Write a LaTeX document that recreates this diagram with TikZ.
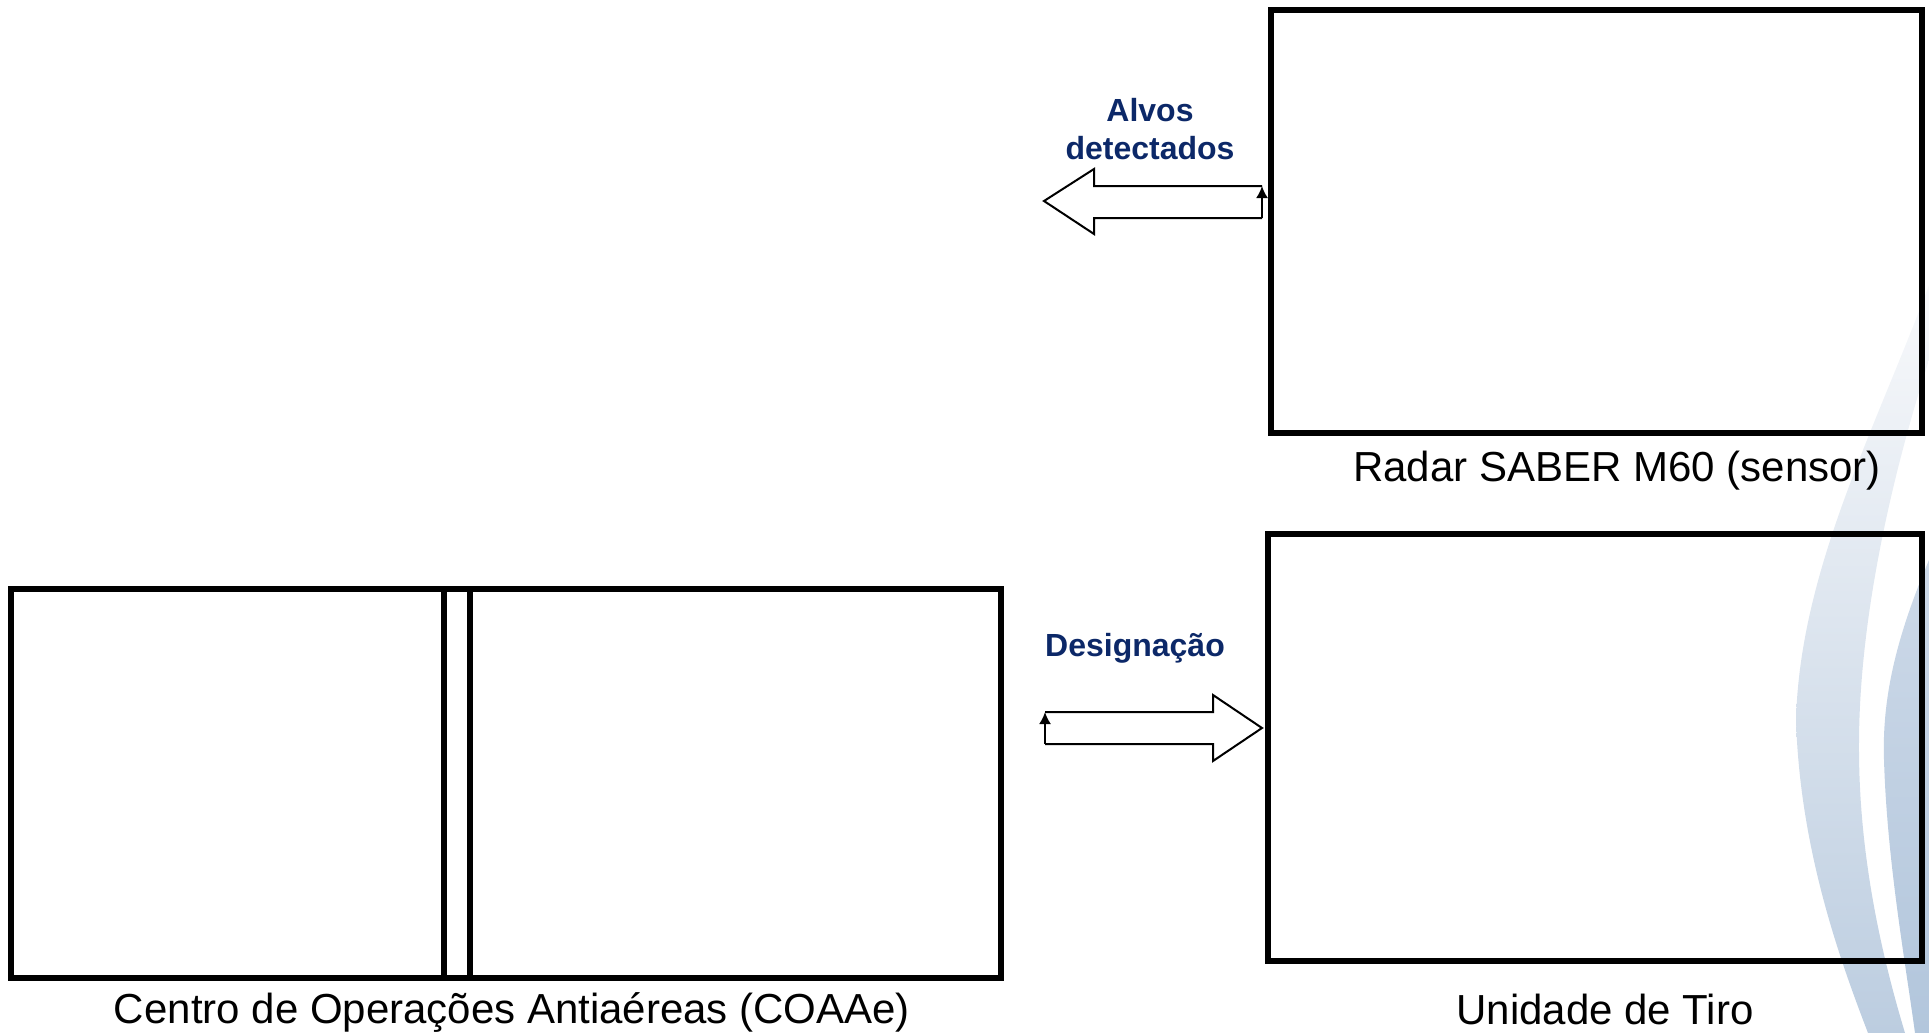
\documentclass[tikz,border=0pt]{standalone}
\usepackage{fontspec}
\setmainfont{Liberation Sans}
\usetikzlibrary{arrows.meta}
\definecolor{navy}{RGB}{12,40,104}
\definecolor{crAtop}{RGB}{248,249,251}
\definecolor{crAmid}{RGB}{232,237,243}
\definecolor{crA}{RGB}{188,205,224}
\definecolor{crBtop}{RGB}{205,217,232}
\definecolor{crB}{RGB}{178,198,220}
\begin{document}
\begin{tikzpicture}[x=0.5pt,y=-0.5pt,
  box/.style={draw=black,line width=2.6pt,inner sep=0pt,outer sep=0pt},
  divider/.style={draw=black,line width=2.6pt},
  blockarrow/.style={draw=black,line width=1pt,fill=white,line join=miter},
  tipline/.style={draw=black,line width=1pt,-{Latex[length=6pt,width=6pt]}},
  lbl/.style={font=\fontsize{21}{25}\selectfont,text=black,inner sep=0pt},
  blbl/.style={font=\fontsize{16}{19}\selectfont\bfseries,text=navy,align=center,inner sep=0pt}]
\useasboundingbox (0,0) rectangle (1929,1033);
% background crescents
\shade[top color=crAtop,middle color=crAmid,bottom color=crA]
  (1929,285) .. controls (1875,430) and (1800,570) .. (1796,720)
  .. controls (1800,850) and (1840,960) .. (1868,1033) -- (1905,1033)
  .. controls (1880,950) and (1858,850) .. (1859,740)
  .. controls (1860,600) and (1900,450) .. (1929,360) -- cycle;
\shade[top color=crBtop,bottom color=crB]
  (1929,560) .. controls (1895,640) and (1882,700) .. (1884,760)
  .. controls (1887,860) and (1905,960) .. (1915,1033) -- (1929,1033) -- cycle;
% boxes
\node[box,anchor=north west,minimum width=325.5pt,minimum height=211.5pt] (radar) at (1271,10) {};
\node[box,anchor=north west,minimum width=327pt,minimum height=213.5pt] (tiro) at (1268,534) {};
\node[box,anchor=north west,minimum width=495pt,minimum height=194.5pt] (coa) at (11,589) {};
\draw[divider] (444,589) -- (444,978);
\draw[divider] (470,589) -- (470,978);
% labels
\node[lbl] (radarlbl) at (1617,471) {Radar SABER M60 (sensor)};
\node[lbl] (tirolbl) at (1605,1009) {Unidade de Tiro};
\node[lbl] (coalbl) at (512,1012) {Centro de Operações Antiaéreas (COAAe)};
% arrow 1: Alvos detectados
\coordinate (a1tip) at (1044,201);
\draw[blockarrow] (1262,186) -- (1094,186) -- (1094,169) -- (a1tip) -- (1094,234) -- (1094,218) -- (1262,218);
\draw[tipline] (1262,218) -- (1262,186);
\node[blbl] (alvos) at (1150,129) {Alvos\\detectados};
% arrow 2: Designação
\coordinate (a2tip) at (1262,728);
\draw[blockarrow] (1045,712) -- (1213,712) -- (1213,695) -- (a2tip) -- (1213,761) -- (1213,744) -- (1045,744);
\draw[tipline] (1045,744) -- (1045,712);
\node[blbl] (design) at (1135,648) {Designação};
\end{tikzpicture}
\end{document}
